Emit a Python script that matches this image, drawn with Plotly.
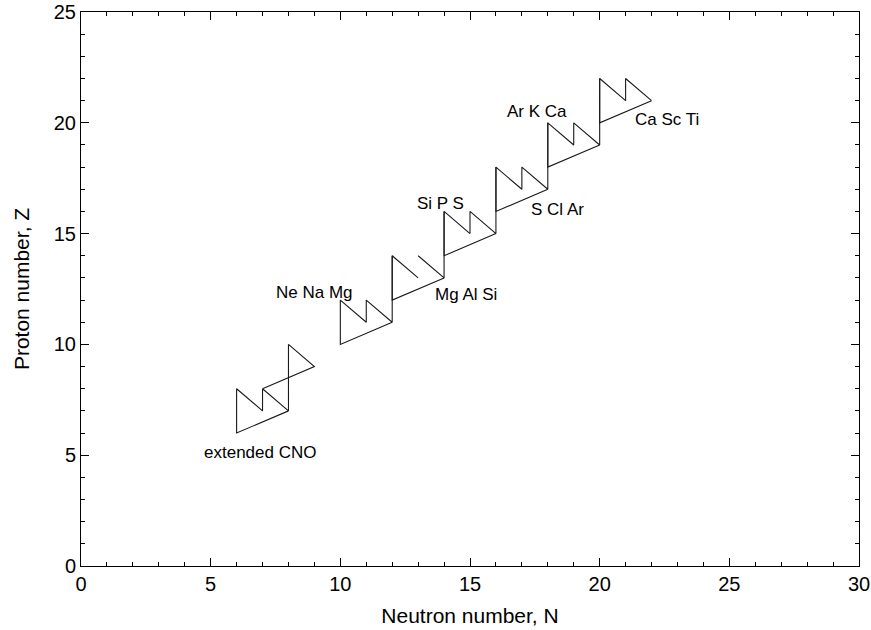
import plotly.graph_objects as go

# Reaction-path polylines (N, Z) for each cycle; None breaks a line
cycles = {
    "extended CNO": ([8, 6, 6, 7, 7, 8, 8, 9, 7],
                     [7, 6, 8, 7, 8, 7, 10, 9, 8]),
    "Ne Na Mg": ([12, 10, 10, 11, 11, 12, 12],
                 [11, 10, 12, 11, 12, 11, 14]),
    "Mg Al Si": ([14, 12, 12, 13, None, 13, 14, 14],
                 [13, 12, 14, 13, None, 14, 13, 16]),
    "Si P S": ([16, 14, 14, 15, 15, 16, 16],
               [15, 14, 16, 15, 16, 15, 18]),
    "S Cl Ar": ([18, 16, 16, 17, 17, 18, 18],
                [17, 16, 18, 17, 18, 17, 20]),
    "Ar K Ca": ([20, 18, 18, 19, 19, 20, 20],
                [19, 18, 20, 19, 20, 19, 22]),
    "Ca Sc Ti": ([22, 20, 20, 21, 21, 22],
                 [21, 20, 22, 21, 22, 21]),
}

label_text = ["extended CNO", "Ne Na Mg", "Mg Al Si", "Si P S", "S Cl Ar", "Ar K Ca", "Ca Sc Ti"]
label_n = [6.90, 8.99, 14.85, 13.85, 18.36, 17.59, 22.6]
label_z = [5.10, 12.32, 12.23, 16.34, 16.11, 20.49, 20.13]

x_ticks = [0, 5, 10, 15, 20, 25, 30]
y_ticks = [0, 5, 10, 15, 20, 25]

FONT = "Liberation Sans, Arial, Helvetica"

fig = go.Figure()
for name, (xs, ys) in cycles.items():
    fig.add_trace(go.Scatter(x=xs, y=ys, mode="lines", name=name,
                             line=dict(color="#1a1a1a", width=1.1),
                             connectgaps=False, showlegend=False))

for t, n, z in zip(label_text, label_n, label_z):
    fig.add_annotation(x=n, y=z, text=t, showarrow=False,
                       font=dict(size=17, color="black", family=FONT))

axis_common = dict(showgrid=False, zeroline=False, showline=True, linecolor="black",
                   linewidth=1, mirror="allticks", ticks="inside", ticklen=8,
                   tickcolor="black", tickwidth=1, automargin=False,
                   tickfont=dict(size=20, color="black", family=FONT),
                   minor=dict(ticks="inside", ticklen=4, dtick=1, tickcolor="black", tickwidth=1))

fig.update_xaxes(range=[0, 30], tickvals=x_ticks,
                 title=dict(text="Neutron number, N", standoff=14,
                            font=dict(size=21, color="black", family=FONT)),
                 **axis_common)
fig.update_yaxes(range=[0, 25], tickvals=y_ticks,
                 title=dict(text="Proton number, Z", standoff=18,
                            font=dict(size=21, color="black", family=FONT)),
                 **axis_common)

fig.update_layout(width=871, height=630, plot_bgcolor="white", paper_bgcolor="white",
                  margin=dict(l=81, r=12, t=12, b=64), showlegend=False)

fig.write_html("out.html", config={"displayModeBar": False},
               post_script="document.body.style.margin='0';document.body.style.overflow='hidden';")
